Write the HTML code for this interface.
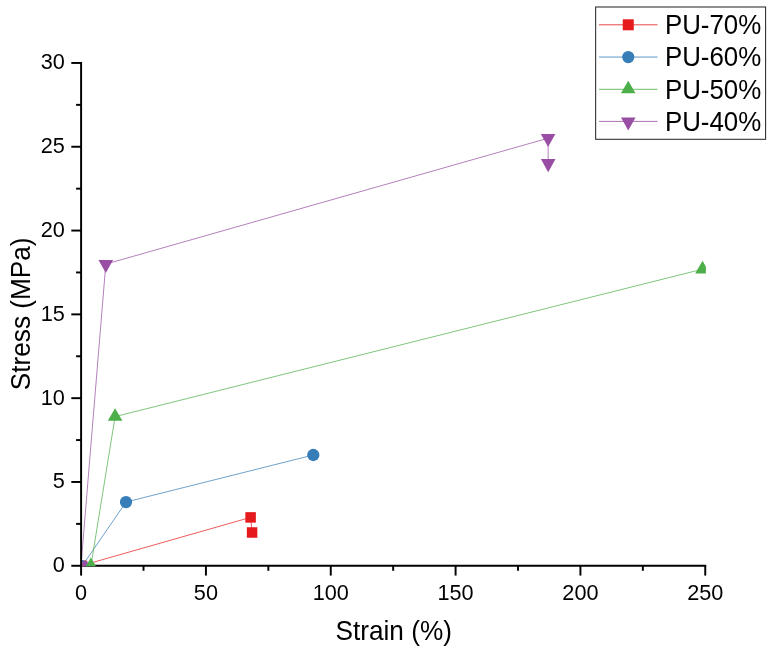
<!DOCTYPE html>
<html><head><meta charset="utf-8"><title>Stress-Strain</title>
<style>
html,body{margin:0;padding:0;background:#fff;}
svg{display:block}
text{font-family:"Liberation Sans",Arial,sans-serif;fill:#000}
.tk{font-size:21.7px}
.ti{font-size:26.2px}
.lg{font-size:25.9px}
</style></head><body>
<svg width="774" height="657" viewBox="0 0 774 657">
<rect width="774" height="657" fill="#fff"/>
<defs><clipPath id="c"><rect x="82" y="62" width="623.90" height="504.20"/></clipPath></defs>

<g stroke="#000" stroke-width="1.95" fill="none">
<path d="M81.10 61.97V566.75"/>
<path d="M80.12 565.78H706.23"/>
<path d="M81.10 565.78h-9.8"/>
<path d="M81.10 523.88h-5.0"/>
<path d="M81.10 481.97h-9.8"/>
<path d="M81.10 440.07h-5.0"/>
<path d="M81.10 398.17h-9.8"/>
<path d="M81.10 356.27h-5.0"/>
<path d="M81.10 314.37h-9.8"/>
<path d="M81.10 272.46h-5.0"/>
<path d="M81.10 230.56h-9.8"/>
<path d="M81.10 188.66h-5.0"/>
<path d="M81.10 146.75h-9.8"/>
<path d="M81.10 104.85h-5.0"/>
<path d="M81.10 62.95h-9.8"/>
<path d="M81.10 565.78v9.8"/>
<path d="M143.51 565.78v5.0"/>
<path d="M205.93 565.78v9.8"/>
<path d="M268.35 565.78v5.0"/>
<path d="M330.76 565.78v9.8"/>
<path d="M393.17 565.78v5.0"/>
<path d="M455.59 565.78v9.8"/>
<path d="M518.00 565.78v5.0"/>
<path d="M580.42 565.78v9.8"/>
<path d="M642.84 565.78v5.0"/>
<path d="M705.25 565.78v9.8"/>
</g>
<text class="tk" transform="translate(64.9 572.28) scale(1 1.04)" text-anchor="end">0</text>
<text class="tk" transform="translate(64.9 488.47) scale(1 1.04)" text-anchor="end">5</text>
<text class="tk" transform="translate(64.9 404.67) scale(1 1.04)" text-anchor="end">10</text>
<text class="tk" transform="translate(64.9 320.87) scale(1 1.04)" text-anchor="end">15</text>
<text class="tk" transform="translate(64.9 237.06) scale(1 1.04)" text-anchor="end">20</text>
<text class="tk" transform="translate(64.9 153.25) scale(1 1.04)" text-anchor="end">25</text>
<text class="tk" transform="translate(64.9 69.45) scale(1 1.04)" text-anchor="end">30</text>
<text class="tk" transform="translate(81.10 599.6) scale(1 1.04)" text-anchor="middle">0</text>
<text class="tk" transform="translate(205.93 599.6) scale(1 1.04)" text-anchor="middle">50</text>
<text class="tk" transform="translate(330.76 599.6) scale(1 1.04)" text-anchor="middle">100</text>
<text class="tk" transform="translate(455.59 599.6) scale(1 1.04)" text-anchor="middle">150</text>
<text class="tk" transform="translate(580.42 599.6) scale(1 1.04)" text-anchor="middle">200</text>
<text class="tk" transform="translate(705.25 599.6) scale(1 1.04)" text-anchor="middle">250</text>
<text class="ti" transform="translate(393.7 639.6) scale(1 1.04)" text-anchor="middle">Strain (%)</text>
<text class="ti" transform="translate(30.2 313.8) rotate(-90) scale(1 1.04)" text-anchor="middle">Stress (MPa)</text>
<g clip-path="url(#c)">
<path d="M81.30 565.70L250.60 517.40L252.10 532.50" fill="none" stroke="#e41a1c" stroke-width="0.9" stroke-opacity="0.8"/>
<path d="M82.00 566.20L126.00 502.05L313.30 455.00" fill="none" stroke="#377eb8" stroke-width="0.9" stroke-opacity="0.8"/>
<path d="M90.90 565.90L115.10 416.60L702.50 269.20" fill="none" stroke="#4daf4a" stroke-width="0.9" stroke-opacity="0.8"/>
<path d="M81.00 565.70L105.80 264.10L548.10 138.20L548.20 163.30" fill="none" stroke="#984ea3" stroke-width="0.9" stroke-opacity="0.8"/>
<rect x="76.05" y="560.45" width="10.5" height="10.5" fill="#e41a1c"/>
<rect x="245.35" y="512.15" width="10.5" height="10.5" fill="#e41a1c"/>
<rect x="246.85" y="527.25" width="10.5" height="10.5" fill="#e41a1c"/>
<circle cx="82.00" cy="566.20" r="6.15" fill="#377eb8"/>
<circle cx="126.00" cy="502.05" r="6.15" fill="#377eb8"/>
<circle cx="313.30" cy="455.00" r="6.15" fill="#377eb8"/>
<path d="M90.90 557.47L98.20 570.11H83.60Z" fill="#4daf4a"/>
<path d="M115.10 408.17L122.40 420.81H107.80Z" fill="#4daf4a"/>
<path d="M702.50 260.77L709.80 273.41H695.20Z" fill="#4daf4a"/>
<path d="M81.00 574.53L88.30 561.49H73.70Z" fill="#984ea3"/>
<path d="M105.80 272.93L113.10 259.89H98.50Z" fill="#984ea3"/>
<path d="M548.10 147.03L555.40 133.99H540.80Z" fill="#984ea3"/>
<path d="M548.20 172.13L555.50 159.09H540.90Z" fill="#984ea3"/>
</g>
<rect x="595.65" y="7.0" width="169.95" height="132.3" fill="#fff" stroke="#2a2a2a" stroke-width="1.05"/>
<path d="M599 24.8H657.5" stroke="#e41a1c" stroke-width="1" stroke-opacity="0.8"/>
<rect x="622.75" y="19.30" width="11" height="11" fill="#e41a1c"/>
<text class="lg" transform="translate(664.9 34.1) scale(1 1.04)">PU-70%</text>
<path d="M599 57.05H657.5" stroke="#377eb8" stroke-width="1" stroke-opacity="0.8"/>
<circle cx="628.25" cy="57.05" r="6.15" fill="#377eb8"/>
<text class="lg" transform="translate(664.9 66.3) scale(1 1.04)">PU-60%</text>
<path d="M599 89.3H657.5" stroke="#4daf4a" stroke-width="1" stroke-opacity="0.8"/>
<path d="M628.25 80.67L635.55 93.31H620.95Z" fill="#4daf4a"/>
<text class="lg" transform="translate(664.9 98.6) scale(1 1.04)">PU-50%</text>
<path d="M599 121.4H657.5" stroke="#984ea3" stroke-width="1" stroke-opacity="0.8"/>
<path d="M628.25 130.43L635.55 117.39H620.95Z" fill="#984ea3"/>
<text class="lg" transform="translate(664.9 130.7) scale(1 1.04)">PU-40%</text>
</svg></body></html>
